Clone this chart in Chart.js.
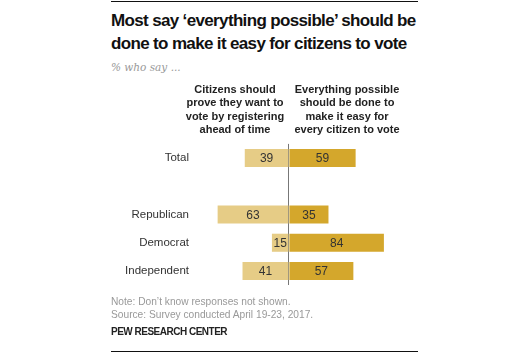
<!DOCTYPE html>
<html>
<head>
<meta charset="utf-8">
<script src="https://cdn.jsdelivr.net/npm/chart.js@4"></script>
<style>
  body { margin: 0; background: #fff; width: 530px; height: 353px; position: relative; overflow: hidden; font-family: "Liberation Sans", Arial, sans-serif; }
  .rule { position: absolute; left: 111px; width: 307px; height: 1px; background: #111; }
  #title { position: absolute; left: 111px; top: 9px; font-weight: bold; font-size: 17px; line-height: 23px; color: #111; letter-spacing: -0.65px; white-space: nowrap; }
  #subtitle { position: absolute; left: 111px; top: 61px; font-family: "DejaVu Serif", Georgia, serif; font-style: italic; font-size: 10.5px; color: #999; }
  .head { position: absolute; top: 83px; width: 130px; text-align: center; font-weight: bold; font-size: 11px; line-height: 13.3px; color: #222; }
  #wrap { position: absolute; left: 0; top: 131px; width: 530px; height: 167px; }
  #notes { position: absolute; left: 111px; top: 295px; font-size: 10.2px; line-height: 13px; color: #999; }
  #pew { position: absolute; left: 111px; top: 326px; font-size: 10px; font-weight: bold; color: #222; letter-spacing: -0.5px; }
</style>
</head>
<body>
<div id="wrap"><canvas id="myChart" width="530" height="167"></canvas></div>
<div class="rule" style="top:1px"></div>
<div id="title">Most say ‘everything possible’ should be<br>done to make it easy for citizens to vote</div>
<div id="subtitle">% who say ...</div>
<div class="head" style="left:170px">Citizens should<br>prove they want to<br>vote by registering<br>ahead of time</div>
<div class="head" style="left:282px">Everything possible<br>should be done to<br>make it easy for<br>every citizen to vote</div>
<div id="notes">Note: Don’t know responses not shown.<br>Source: Survey conducted April 19-23, 2017.</div>
<div id="pew">PEW RESEARCH CENTER</div>
<div class="rule" style="top:351px"></div>
<script>
// 値は図から読み取り
const categories = ['Total', '', 'Republican', 'Democrat', 'Independent'];
const registerValues = [39, null, 63, 15, 41];
const everythingValues = [59, null, 35, 84, 57];

// バーの中に数値を描く
const valueLabels = {
    id: 'valueLabels',
    afterDatasetsDraw(chart) {
        const ctx = chart.ctx;
        ctx.save();
        ctx.font = '12px "Liberation Sans", Arial, sans-serif';
        ctx.fillStyle = '#333';
        ctx.textAlign = 'center';
        ctx.textBaseline = 'middle';
        chart.data.datasets.forEach((ds, i) => {
            const meta = chart.getDatasetMeta(i);
            meta.data.forEach((bar, j) => {
                const v = ds.raw[j];
                if (v == null) return;
                ctx.fillText(String(v), (bar.x + bar.base) / 2, bar.y + 1);
            });
        });
        ctx.restore();
    }
};

const ctx = document.getElementById('myChart').getContext('2d');
const myBarChart = new Chart(ctx, {
    type: 'bar',
    data: {
        labels: categories,
        datasets: [{
            label: 'Register',
            raw: registerValues,
            data: registerValues.map(v => v == null ? null : -v),
            backgroundColor: '#E6CC86',
            barPercentage: 0.64,
            categoryPercentage: 1
        }, {
            label: 'Everything possible',
            raw: everythingValues,
            data: everythingValues,
            backgroundColor: '#D4A72C',
            barPercentage: 0.64,
            categoryPercentage: 1
        }]
    },
    options: {
        indexAxis: 'y',
        responsive: false,
        animation: false,
        layout: { padding: { top: 0, bottom: 0, left: 0, right: 128 } },
        plugins: { legend: { display: false }, tooltip: { enabled: false } },
        scales: {
            x: {
                stacked: true,
                min: -83,
                max: 100,
                afterBuildTicks(scale) { scale.ticks = [{ value: 0 }]; },
                ticks: { display: false },
                border: { display: false },
                grid: { drawTicks: false, color: '#777', lineWidth: 1 }
            },
            y: {
                stacked: true,
                afterFit(scale) { scale.width = 195; },
                border: { display: false },
                grid: { display: false, drawTicks: false },
                ticks: {
                    padding: 6,
                    color: '#333',
                    font: { size: 11.5, family: '"Liberation Sans", Arial, sans-serif' }
                }
            }
        }
    },
    plugins: [valueLabels]
});
</script>
</body>
</html>
